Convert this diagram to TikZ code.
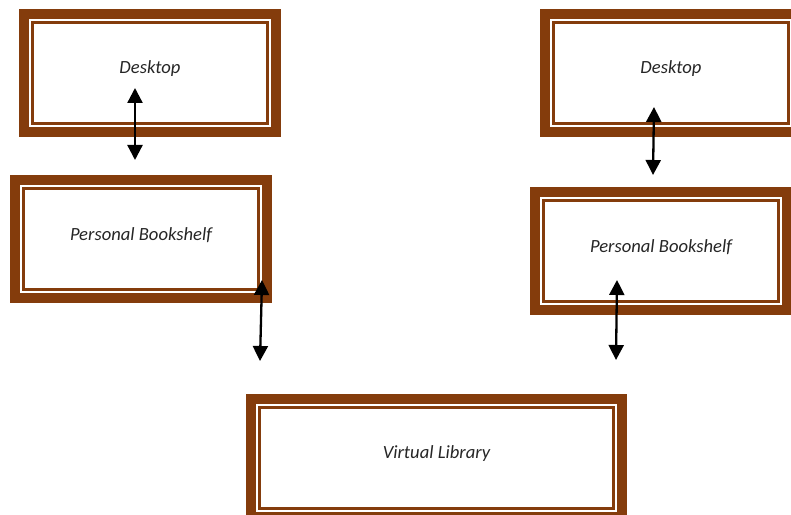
\documentclass[tikz,border=0pt]{standalone}
\usepackage{fontspec}
\setmainfont{Carlito}
\usetikzlibrary{arrows.meta,calc}
\definecolor{brownb}{HTML}{843C0C}
\definecolor{txt}{HTML}{262626}
\newcommand{\lblfont}{\fontsize{18.6}{22}\selectfont\itshape}
\begin{document}
\begin{tikzpicture}[x=1pt,y=1pt,
  box/.style={draw=brownb, line width=10pt, fill=white, minimum width=252pt,
    minimum height=118pt, inner sep=0pt, outer sep=0pt},
  lbl/.style={label={[font=\lblfont, text=txt, yshift=4pt]center:#1}},
  innerline/.style={draw=brownb, line width=3pt},
  dblarrow/.style={line width=2.3pt, black,
    {Triangle[length=15pt,width=15pt]}-{Triangle[length=15pt,width=15pt]}}]
\useasboundingbox (0,0) rectangle (791,514);
\clip (0,0) rectangle (791,514);
% boxes
\node[box, lbl=Desktop] (dl) at (150,441) {};
\node[box, lbl=Desktop] (dr) at (671,441) {};
\node[box, lbl=Personal Bookshelf] (pbl) at (141,275) {};
\node[box, lbl=Personal Bookshelf] (pbr) at (661,263) {};
\node[box, minimum width=371pt, lbl=Virtual Library] (vl) at (436.5,56) {};
% inner thin frames
\foreach \n in {dl,dr,pbl,pbr,vl}
  \draw[innerline] ($(\n.south west)+(8.5,8.5)$) rectangle ($(\n.north east)-(8.5,8.5)$);
% arrow end points
\coordinate (a1t) at ($(dl.south)+(-15,44)$);
\coordinate (a1b) at ($(dl.south)+(-15,-28)$);
\coordinate (a2t) at ($(pbl.south east)+(-5,18)$);
\coordinate (a2b) at ($(pbl.south east)+(-7,-63)$);
\coordinate (a3t) at ($(dr.south)+(-17,25)$);
\coordinate (a3b) at ($(pbr.north)+(-8,17)$);
\coordinate (a4t) at ($(pbr.south)+(-44,30)$);
\coordinate (a4b) at ($(pbr.south)+(-45,-50)$);
% arrows
\draw[dblarrow] (a1t) -- (a1b);
\draw[dblarrow] (a2t) -- (a2b);
\draw[dblarrow] (a3t) -- (a3b);
\draw[dblarrow] (a4t) -- (a4b);
\end{tikzpicture}
\end{document}
